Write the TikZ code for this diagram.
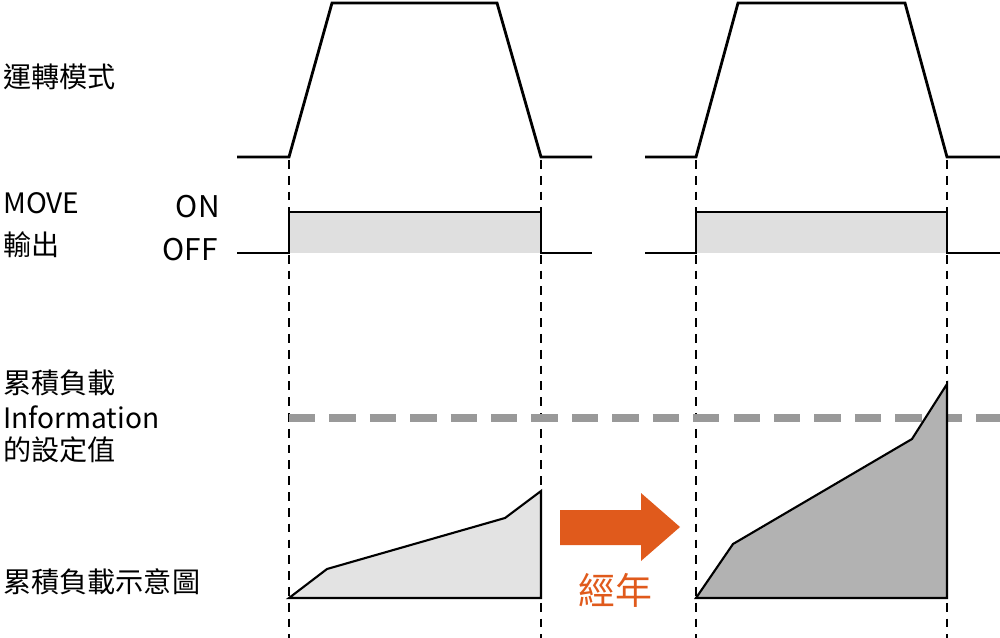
\documentclass[tikz,border=0pt]{standalone}
\usepackage{fontspec}
\setmainfont{Noto Sans CJK TC}
\definecolor{agecol}{HTML}{E05A1C}
\begin{document}
\begin{tikzpicture}[x=0.02cm,y=-0.02cm,
  sig/.style={line width=1.6pt,black,line join=miter},
  vdash/.style={black,line width=0.6pt,dash pattern=on 5pt off 4pt},
  lab/.style={anchor=west,inner sep=0pt,font=\fontsize{16}{18}\selectfont},
  onoff/.style={anchor=east,inner sep=0pt,font=\fontsize{17}{19}\selectfont}]
\useasboundingbox (0,0) rectangle (1000,638);
% vertical dashed lines
\foreach \x/\n in {289/a,541/b,696/c,947/d}{
  \coordinate (t\n) at (\x,160); \coordinate (b\n) at (\x,638);
  \draw[vdash] (t\n) -- (b\n);}
% trapezoids
\draw[sig] (237,157) -- (289,157) -- (332,3) -- (497,3) -- (541,157) -- (592,157);
\draw[sig] (645,157) -- (696,157) -- (738,3) -- (905,3) -- (947,157) -- (1000,157);
% MOVE output
\fill[gray!25] (289,212) rectangle (541,253);
\fill[gray!25] (696,212) rectangle (947,253);
\draw[sig] (237,253) -- (289,253) -- (289,212) -- (541,212) -- (541,253) -- (592,253);
\draw[sig] (645,253) -- (696,253) -- (696,212) -- (947,212) -- (947,253) -- (1000,253);
% threshold
\draw[gray!80,line width=4.5pt,dash pattern=on 15pt off 8pt] (289,418) -- (1000,418);
% load shapes
\draw[fill=gray!22,line width=1.2pt,line join=miter] (289,598) -- (327,569) -- (505,518) -- (541,491) -- (541,598) -- cycle;
\draw[fill=gray!60,line width=1.2pt,line join=miter] (696,598) -- (733,544) -- (912,439) -- (947,384) -- (947,598) -- cycle;
% arrow
\fill[agecol] (560,510) -- (641,510) -- (641,493) -- (680,527) -- (641,561) -- (641,545) -- (560,545) -- cycle;
\node[text=agecol,font=\fontsize{21}{24}\selectfont,inner sep=0pt] (aging) at (615,590) {經年};
% labels
\node[lab] (mode) at (3,77) {運轉模式};
\node[lab] (move) at (3,203) {MOVE};
\node[lab] (out) at (3,245) {輸出};
\node[onoff] (on) at (220,207) {ON};
\node[onoff] (off) at (218,250) {OFF};
\node[lab] (l1) at (3,383) {累積負載};
\node[lab] (l2) at (3,417) {Information};
\node[lab] (l3) at (3,450) {的設定值};
\node[lab] (l4) at (3,582) {累積負載示意圖};
\end{tikzpicture}
\end{document}
